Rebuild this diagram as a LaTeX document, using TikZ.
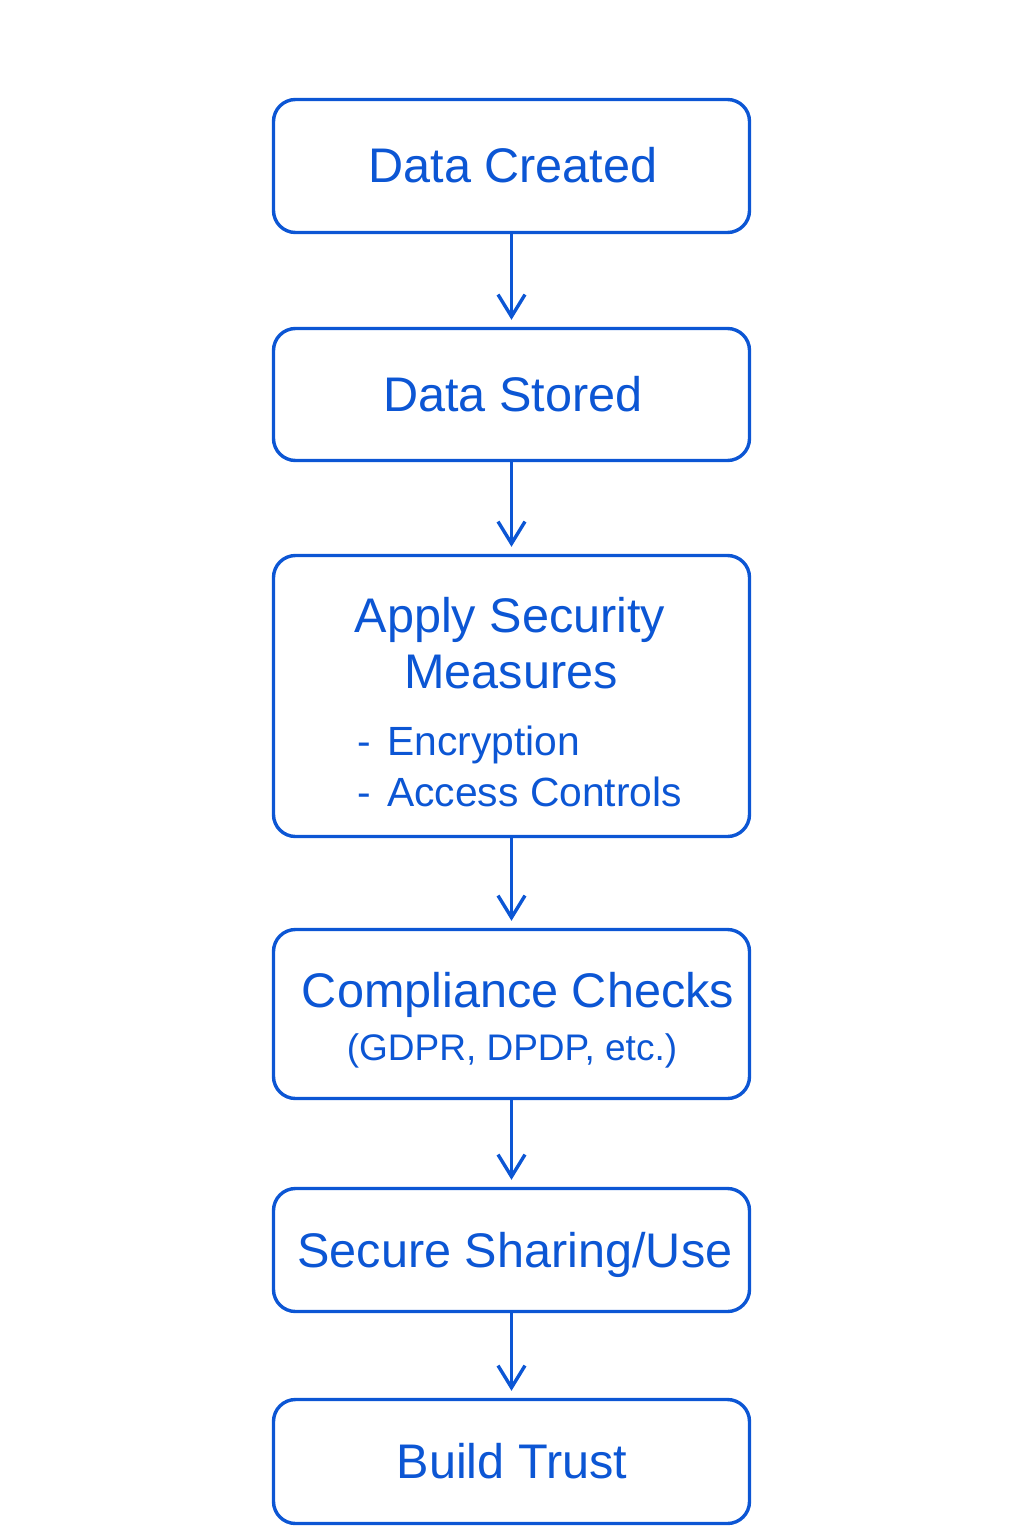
\documentclass[tikz,border=0pt]{standalone}
\usepackage{fontspec}
\setmainfont{Liberation Sans}
\usetikzlibrary{arrows.meta}
\definecolor{flowblue}{RGB}{12,86,212}
\tikzset{
  box/.style={draw=flowblue, line width=1.7pt, rounded corners=11pt, minimum width=238pt, inner sep=0pt},
  lbl/.style={text=flowblue, anchor=base, inner sep=0pt, font=\fontsize{24.3}{28}\selectfont},
  sublbl/.style={text=flowblue, anchor=base west, inner sep=0pt, font=\fontsize{20.4}{24}\selectfont},
  small/.style={text=flowblue, anchor=base, inner sep=0pt, font=\fontsize{18.5}{22}\selectfont},
  flow/.style={draw=flowblue, line width=1.7pt, -{Straight Barb[length=11pt,width=13.5pt,line width=1.7pt]}, shorten >=3.5pt}
}
\begin{document}
\begin{tikzpicture}[x=0.5pt,y=-0.5pt]
\useasboundingbox (0,0) rectangle (1024,1536);
\node[box, minimum height=66.5pt] (b1) at (511.5,166) {};
\node[box, minimum height=66pt] (b2) at (511.5,394.5) {};
\node[box, minimum height=140.5pt] (b3) at (511.5,696) {};
\node[box, minimum height=84.5pt] (b4) at (511.5,1014) {};
\node[box, minimum height=61.5pt] (b5) at (511.5,1250) {};
\node[box, minimum height=62pt] (b6) at (511.5,1461.5) {};

\node[lbl] (t1) at (513,183) {Data Created};
\node[lbl] (t2) at (513,411) {Data Stored};
\node[lbl] (t3a) at (510,632) {Apply Security};
\node[lbl] (t3b) at (511,688) {Measures};
\node[sublbl] (t3c) at (357,755) {-\hspace{0.4em}Encryption};
\node[sublbl] (t3d) at (357,806) {-\hspace{0.4em}Access Controls};
\node[lbl] (t4a) at (518,1007) {Compliance Checks};
\node[small] (t4b) at (512,1060) {(GDPR, DPDP, etc.)};
\node[lbl] (t5) at (515,1267) {Secure Sharing/Use};
\node[lbl] (t6) at (512,1478) {Build Trust};

\draw[flow] (b1.south) -- (b2.north);
\draw[flow] (b2.south) -- (b3.north);
\draw[flow] (b3.south) -- (b4.north);
\draw[flow] (b4.south) -- (b5.north);
\draw[flow] (b5.south) -- (b6.north);
\end{tikzpicture}
\end{document}
